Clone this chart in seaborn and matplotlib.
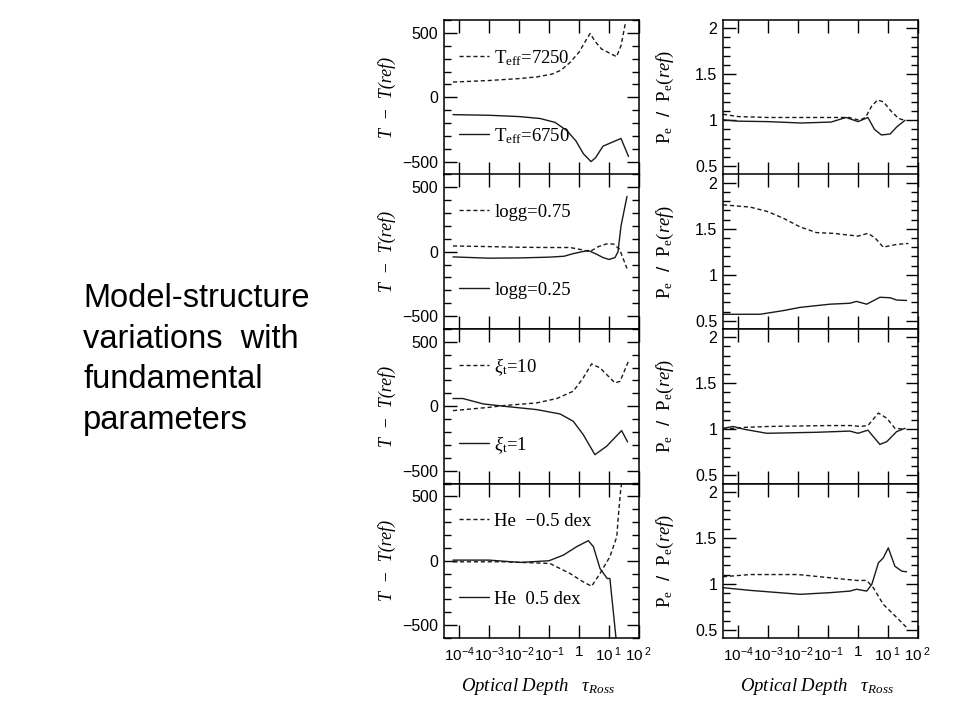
import numpy as np
import matplotlib
matplotlib.use('Agg')
import matplotlib.pyplot as plt
from matplotlib.lines import Line2D
from matplotlib.ticker import MultipleLocator, FixedLocator, NullLocator
import seaborn as sns

## Dados (x = log10 tau_Ross)
# painel 1: Teff
t7250_x = [-4.2, -3.0, -2.0, -1.4, -0.9, -0.6, -0.3, 0.0, 0.2, 0.37, 0.55, 0.75, 1.0, 1.25, 1.4, 1.55]
t7250_y = [118, 130, 145, 158, 180, 210, 270, 350, 430, 495, 430, 375, 345, 315, 400, 580]
t6750_x = [-4.2, -3.0, -2.0, -1.3, -0.8, -0.4, -0.1, 0.15, 0.4, 0.55, 0.8, 1.1, 1.4, 1.65]
t6750_y = [-135, -140, -150, -165, -195, -260, -340, -440, -500, -470, -380, -350, -320, -460]
pe7250_x = [-4.5, -4.0, -3.0, -1.0, -0.3, 0.05, 0.25, 0.45, 0.65, 0.85, 1.1, 1.35, 1.55]
pe7250_y = [1.065, 1.04, 1.03, 1.03, 1.03, 1.0, 1.03, 1.15, 1.22, 1.2, 1.1, 1.02, 1.0]
pe6750_x = [-4.5, -4.0, -3.0, -1.9, -0.9, -0.4, 0.0, 0.33, 0.55, 0.78, 1.07, 1.3, 1.57]
pe6750_y = [1.005, 0.99, 0.985, 0.97, 0.98, 1.03, 0.985, 1.03, 0.9, 0.84, 0.85, 0.93, 1.0]

# painel 2: logg
g075_x = [-4.2, -3.0, -2.0, -1.0, -0.3, 0.1, 0.35, 0.65, 0.9, 1.15, 1.35, 1.6]
g075_y = [45, 40, 35, 33, 33, 15, 0, 40, 60, 60, 20, -130]
g025_x = [-4.2, -3.0, -2.0, -1.0, -0.5, -0.2, 0.3, 0.55, 0.8, 1.0, 1.2, 1.3, 1.4, 1.6]
g025_y = [-40, -50, -48, -42, -35, -15, 10, -15, -45, -60, -45, 0, 200, 430]
peg075_x = [-4.5, -3.6, -3.04, -2.49, -1.93, -1.38, -0.82, -0.27, 0.0, 0.33, 0.57, 0.84, 1.29, 1.68]
peg075_y = [1.76, 1.736, 1.69, 1.615, 1.52, 1.458, 1.45, 1.43, 1.42, 1.45, 1.40, 1.30, 1.33, 1.34]
peg025_x = [-4.5, -3.27, -2.49, -1.93, -0.93, -0.27, -0.05, 0.29, 0.73, 1.07, 1.29, 1.62]
peg025_y = [0.57, 0.57, 0.61, 0.645, 0.68, 0.69, 0.71, 0.68, 0.755, 0.75, 0.725, 0.72]

# painel 3: microturbulencia
xi10_x = [-4.2, -2.97, -2.52, -1.41, -0.74, -0.19, 0.14, 0.42, 0.7, 1.2, 1.37, 1.64]
xi10_y = [-34, -8, 5, 26, 60, 117, 220, 329, 298, 181, 194, 345]
xi1_x = [-4.2, -3.87, -3.19, -2.5, -1.41, -0.63, -0.19, 0.14, 0.53, 0.92, 1.42, 1.62]
xi1_y = [60, 60, 18, 0, -26, -60, -117, -220, -376, -311, -189, -277]
pexi10_x = [-4.5, -3.82, -3.0, -1.0, -0.2, 0.07, 0.33, 0.68, 0.96, 1.23, 1.57]
pexi10_y = [1.0, 1.02, 1.03, 1.04, 1.04, 1.03, 1.04, 1.176, 1.12, 1.01, 1.0]
pexi1_x = [-4.5, -4.16, -3.8, -3.04, -1.38, -0.27, 0.0, 0.33, 0.73, 0.96, 1.29, 1.57]
pexi1_y = [1.01, 1.03, 1.0, 0.956, 0.967, 0.98, 0.956, 0.99, 0.835, 0.865, 0.975, 1.01]

# painel 4: helio
hem_x = [-4.2, -2.5, -0.97, -0.3, 0.14, 0.42, 0.7, 1.03, 1.26, 1.31, 1.39, 1.45]
hem_y = [-8, -8, -21, -99, -164, -198, -99, 31, 187, 344, 552, 650]
hep_x = [-4.2, -3.0, -1.97, -1.0, -0.52, -0.08, 0.31, 0.48, 0.7, 0.94, 1.03, 1.23, 1.26]
hep_y = [5, 5, -13, 0, 44, 109, 156, 109, -60, -138, -138, -593, -700]
pehem_x = [-4.5, -3.6, -2.0, -0.93, -0.05, 0.29, 0.51, 0.84, 1.29, 1.62]
pehem_y = [1.076, 1.10, 1.10, 1.065, 1.036, 1.036, 0.957, 0.777, 0.633, 0.525]
pehep_x = [-4.5, -3.6, -1.93, -0.93, -0.27, -0.05, 0.29, 0.46, 0.68, 0.84, 1.01, 1.23, 1.46, 1.62]
pehep_y = [0.957, 0.928, 0.885, 0.903, 0.92, 0.94, 0.92, 0.993, 1.227, 1.28, 1.39, 1.19, 1.137, 1.13]

legendas = [
    (r'T$_{\rm eff}$=7250', r'T$_{\rm eff}$=6750'),
    ('logg=0.75', 'logg=0.25'),
    (r'$\xi_{\rm t}$=10', r'$\xi_{\rm t}$=1'),
    ('He  \u22120.5 dex', 'He  0.5 dex'),
]
curvas_T = [
    ((t7250_x, t7250_y), (t6750_x, t6750_y)),
    ((g075_x, g075_y), (g025_x, g025_y)),
    ((xi10_x, xi10_y), (xi1_x, xi1_y)),
    ((hem_x, hem_y), (hep_x, hep_y)),
]
curvas_P = [
    ((pe7250_x, pe7250_y), (pe6750_x, pe6750_y)),
    ((peg075_x, peg075_y), (peg025_x, peg025_y)),
    ((pexi10_x, pexi10_y), (pexi1_x, pexi1_y)),
    ((pehem_x, pehem_y), (pehep_x, pehep_y)),
]
tick_pos = [1e-4, 1e-3, 1e-2, 1e-1, 1, 10, 100]
tick_lab = [r'$\mathsf{10^{-4}}$', r'$\mathsf{10^{-3}}$', r'$\mathsf{10^{-2}}$', r'$\mathsf{10^{-1}}$',
            r'$\mathsf{1}$', r'$\mathsf{10^{\ 1}}$', r'$\mathsf{10^{\ 2}}$']

## Estilo
sns.set_style('ticks')
plt.rcParams['font.family'] = ['Liberation Sans', 'DejaVu Sans']
plt.rcParams['mathtext.fontset'] = 'custom'
plt.rcParams['mathtext.rm'] = 'Liberation Serif'
plt.rcParams['mathtext.it'] = 'Liberation Serif:italic'
plt.rcParams['mathtext.bf'] = 'Liberation Serif:bold'
plt.rcParams['mathtext.sf'] = 'Liberation Sans'
plt.rcParams['axes.linewidth'] = 1.1
for chave in ['text.color', 'axes.labelcolor', 'xtick.color', 'ytick.color', 'axes.edgecolor']:
    plt.rcParams[chave] = 'black'

cor = '#1a1a1a'
tracejado = (0, (3, 2))

fig = plt.figure(figsize=(9.6, 7.2), dpi=100)
x_esq = [444 / 960, 723 / 960]
larg = 195 / 960
alt = 154.5 / 720
base = 1 - 638 / 720

for i in range(4):
    y0 = base + (3 - i) * alt
    for j in range(2):
        ax = fig.add_axes([x_esq[j], y0, larg, alt])
        curvas = curvas_T[i] if j == 0 else curvas_P[i]
        (xd, yd), (xs, ys) = curvas
        sns.lineplot(x=10.0 ** np.array(xd), y=yd, ax=ax, color=cor, lw=1.0, linestyle=tracejado)
        sns.lineplot(x=10.0 ** np.array(xs), y=ys, ax=ax, color=cor, lw=1.0)
        ax.set_xscale('log')
        ax.set_xlim(10 ** -4.5, 100)
        ax.xaxis.set_major_locator(FixedLocator(tick_pos))
        ax.xaxis.set_minor_locator(NullLocator())
        if j == 0:
            ax.set_ylim(-600, 600)
            ax.set_yticks([-500, 0, 500])
            ax.set_yticklabels(['\u2212500', '0', '500'])
            ax.yaxis.set_minor_locator(MultipleLocator(100))
            ax.set_ylabel('T  \u2212  T(ref)', family='Liberation Serif', style='italic', fontsize=13)
            ax.yaxis.set_label_coords(-0.245, 0.5)
            h1 = Line2D([], [], color=cor, lw=1.0, linestyle=tracejado)
            h2 = Line2D([], [], color=cor, lw=1.0)
            leg1 = ax.legend([h1], [legendas[i][0]], loc='center left', bbox_to_anchor=(0.075, 0.755),
                             frameon=False, handlelength=1.6, handletextpad=0.3, borderpad=0,
                             borderaxespad=0, prop={'family': 'Liberation Serif', 'size': 13.5})
            ax.add_artist(leg1)
            ax.legend([h2], [legendas[i][1]], loc='center left', bbox_to_anchor=(0.075, 0.25),
                      frameon=False, handlelength=1.6, handletextpad=0.3, borderpad=0,
                      borderaxespad=0, prop={'family': 'Liberation Serif', 'size': 13.5})
        else:
            ax.set_ylim(0.41, 2.09)
            ax.set_yticks([0.5, 1, 1.5, 2])
            ax.set_yticklabels(['0.5', '1', '1.5', '2'])
            ax.yaxis.set_minor_locator(MultipleLocator(0.1))
            ax.set_ylabel(r'$\mathrm{P_e}$  /  $\mathrm{P_e}$$(ref)$', fontsize=13.5)
            ax.yaxis.set_label_coords(-0.24, 0.5)
        ax.tick_params(which='both', direction='in', top=True, right=True)
        ax.tick_params(axis='y', which='major', length=9, width=1.0, labelsize=11.5, pad=4)
        ax.tick_params(axis='y', which='minor', length=5, width=1.0)
        ax.tick_params(axis='x', which='major', length=9.5, width=1.0, labelsize=11, pad=5)
        if i == 3:
            ax.set_xticklabels(tick_lab)
            ax.set_xlabel(r'Optical Depth   $\tau_{Ross}$', family='Liberation Serif',
                          style='italic', fontsize=13.5)
            ax.xaxis.set_label_coords(0.48, -0.245)
        else:
            ax.set_xticklabels([])
            ax.set_xlabel('')

fig.text(83 / 960, 1 - 283 / 720, 'Model-structure\nvariations  with\nfundamental\nparameters',
         ha='left', va='top', fontsize=23.5, family='Liberation Sans', linespacing=1.4)

plt.savefig('out.png', dpi=100)
